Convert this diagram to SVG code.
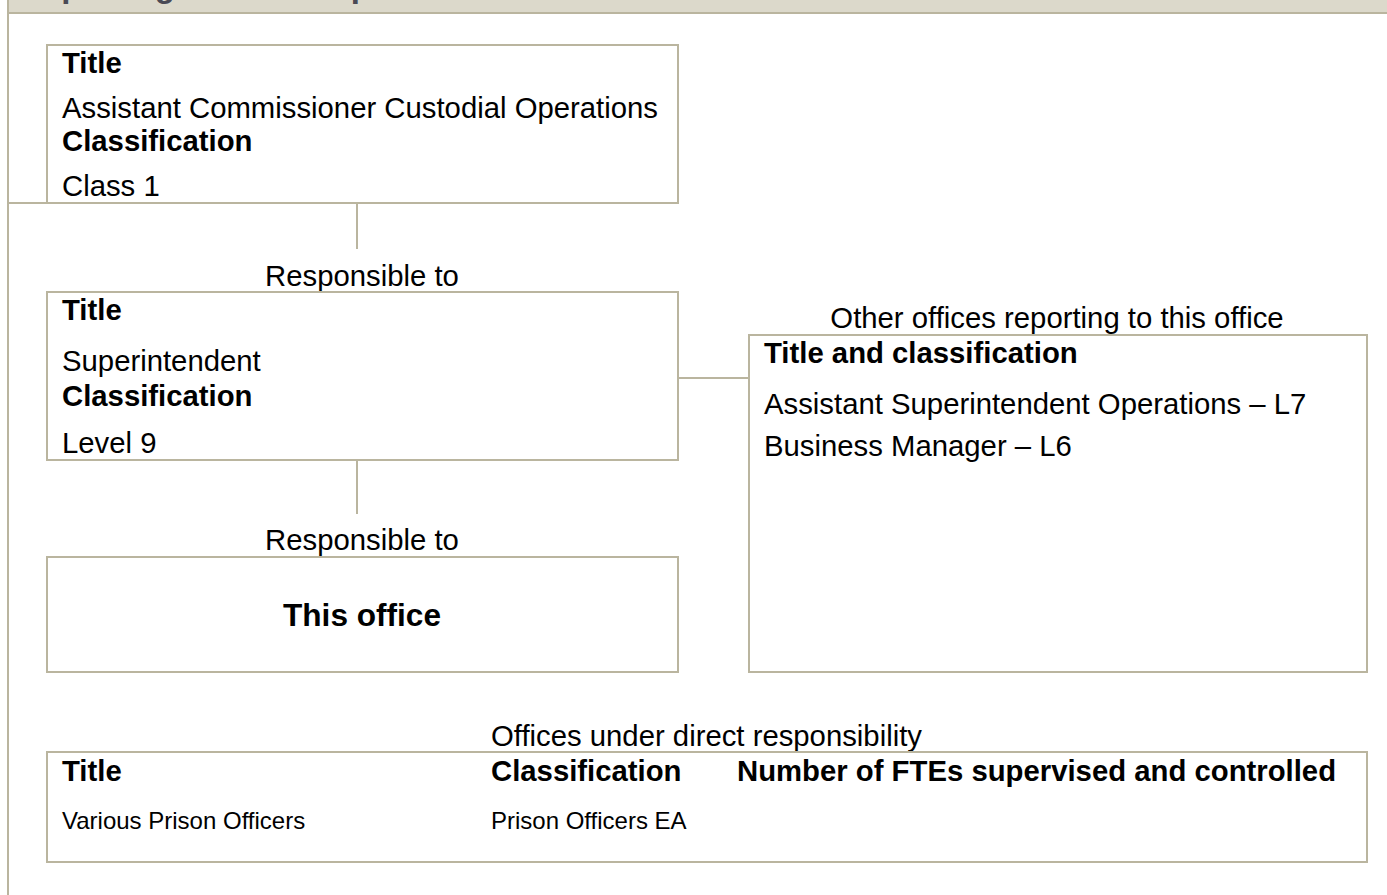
<svg xmlns="http://www.w3.org/2000/svg" width="1387" height="895" viewBox="0 0 1387 895">
  <style>
    .box { fill: #ffffff; stroke: #bab59f; stroke-width: 2; }
    .ln { stroke: #bab59f; stroke-width: 2; fill: none; }
    text { font-family: "Liberation Sans", Arial, sans-serif; fill: #000000; }
    .r { font-size: 29.3px; }
    .b { font-size: 29.3px; font-weight: bold; }
    .s { font-size: 24px; }
  </style>
  <rect x="0" y="0" width="1387" height="895" fill="#ffffff"/>
  <g id="header">
    <rect x="8" y="0" width="1379" height="12" fill="#dcd9cb"/>
    <line class="ln" x1="8" y1="13" x2="1387" y2="13"/>
    <line class="ln" x1="8" y1="0" x2="8" y2="895"/>
    <text x="19" y="-3" font-size="33" font-weight="bold" style="fill:#4a4a55">Reporting relationships</text>
  </g>
  <g id="connectors">
    <line class="ln" x1="8" y1="203" x2="678" y2="203"/>
    <line class="ln" x1="357" y1="203" x2="357" y2="249"/>
    <line class="ln" x1="357" y1="460" x2="357" y2="514"/>
    <line class="ln" x1="678" y1="378" x2="749" y2="378"/>
  </g>
  <g id="node-commissioner">
    <rect class="box" x="47" y="45" width="631" height="158"/>
    <text class="b" x="62" y="73">Title</text>
    <text class="r" x="62" y="118">Assistant Commissioner Custodial Operations</text>
    <text class="b" x="62" y="151">Classification</text>
    <text class="r" x="62" y="196">Class 1</text>
  </g>
  <g id="label-responsible-1">
    <text class="r" x="362" y="286" text-anchor="middle">Responsible to</text>
  </g>
  <g id="node-superintendent">
    <rect class="box" x="47" y="292" width="631" height="168"/>
    <text class="b" x="62" y="320">Title</text>
    <text class="r" x="62" y="371">Superintendent</text>
    <text class="b" x="62" y="406">Classification</text>
    <text class="r" x="62" y="453">Level 9</text>
  </g>
  <g id="node-other-offices">
    <text class="r" x="1057" y="328" text-anchor="middle">Other offices reporting to this office</text>
    <rect class="box" x="749" y="335" width="618" height="337"/>
    <text class="b" x="764" y="363">Title and classification</text>
    <text class="r" x="764" y="414">Assistant Superintendent Operations – L7</text>
    <text class="r" x="764" y="456">Business Manager – L6</text>
  </g>
  <g id="label-responsible-2">
    <text class="r" x="362" y="550" text-anchor="middle">Responsible to</text>
  </g>
  <g id="node-this-office">
    <rect class="box" x="47" y="557" width="631" height="115"/>
    <text x="362" y="626" text-anchor="middle" font-size="31.6" font-weight="bold">This office</text>
  </g>
  <g id="node-direct-offices">
    <text class="r" x="491" y="746">Offices under direct responsibility</text>
    <rect class="box" x="47" y="752" width="1320" height="110"/>
    <text class="b" x="62" y="781">Title</text>
    <text class="b" x="491" y="781">Classification</text>
    <text class="b" x="737" y="781">Number of FTEs supervised and controlled</text>
    <text class="s" x="62" y="829">Various Prison Officers</text>
    <text class="s" x="491" y="829">Prison Officers EA</text>
  </g>
</svg>
